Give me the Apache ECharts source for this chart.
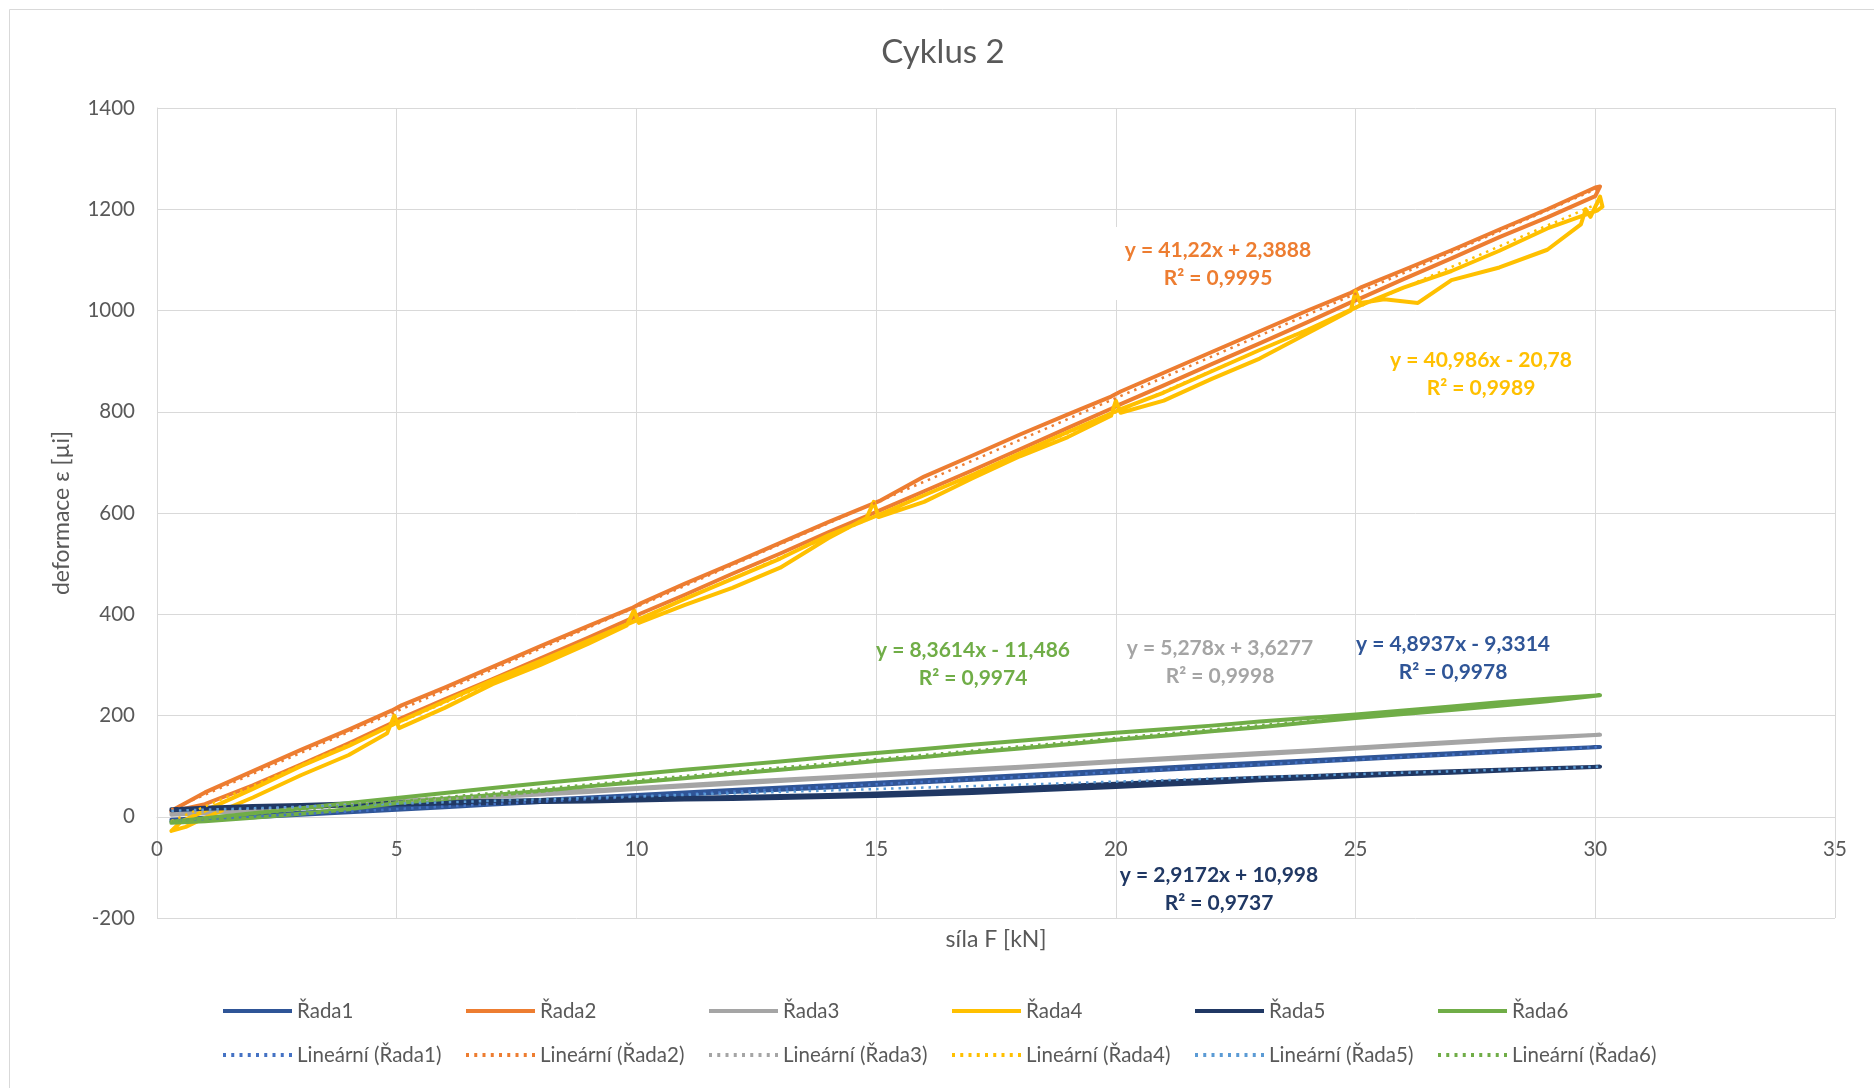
<!DOCTYPE html>
<html><head><meta charset="utf-8">
<script src="https://cdn.jsdelivr.net/npm/echarts@6/dist/echarts.min.js"></script>
<style>html,body{margin:0;padding:0;background:#fff}#c{width:1874px;height:1088px}</style>
</head><body><div id="c"></div><script>
// ---- data (x = síla F [kN], y = deformace) ----
const seriesNames = ['Řada1','Řada2','Řada3','Řada4','Řada5','Řada6'];
const xTicks = [0,5,10,15,20,25,30,35];
const yTicks = [-200,0,200,400,600,800,1000,1200,1400];

const rada1 = [[0.3,-9],[1,-6],[2,-1],[3,4],[4,9],[5,14],[6,19],[7,24],[8,29],[9,34],[10,39],[12,49],[14,58],[16,68],[18,78],[20,88],[22,98],[24,108],[26,118],[28,128],[30.1,138],
  [28,130],[26,121],[24,111],[22,102],[20,92],[18,82],[16,72],[14,62],[12,53],[10,43],[9,38],[8,33],[7,28],[6,23],[5,18],[4,13],[3,8],[2,3],[1,-2],[0.3,-6]];
const rada2 = [[0.3,10],[1,25],[2,62],[3,103],[4,145],[4.9,185],[5.1,195],[6,232],[7,272],[8,313],[9,354],[9.9,392],[10.1,402],[11,438],[12,480],[13,520],[14,562],[14.9,598],[15.1,606],[16,643],[17,684],[18,726],[19,768],[19.9,806],[20.1,815],[21,852],[22,894],[23,935],[24,977],[24.9,1016],[25.1,1024],[26,1062],[27,1103],[28,1145],[29,1184],[30,1226],[30.1,1245],
  [30,1243],[29,1200],[28,1160],[27,1119],[26,1080],[25.1,1045],[24.9,1035],[24,1000],[23,959],[22,918],[21,877],[20.1,840],[19.9,830],[19,795],[18,755],[17,713],[16,672],[15.1,625],[14.9,617],[14,582],[13,541],[12,500],[11,460],[10.1,422],[9.9,412],[9,377],[8,337],[7,296],[6,255],[5.1,220],[4.9,210],[4,172],[3,132],[2,90],[1,48],[0.3,12]];
const rada3 = [[0.3,4],[1,7],[2,12],[3,17],[4,23],[5,28],[6,34],[7,39],[8,44],[9,49],[10,55],[12,65],[14,76],[16,86],[18,97],[20,108],[22,118],[24,129],[26,140],[28,151],[30.1,162],
  [28,153],[26,142],[24,131],[22,121],[20,110],[18,99],[16,89],[14,78],[12,68],[10,57],[9,52],[8,47],[7,41],[6,36],[5,31],[4,25],[3,20],[2,14],[1,9],[0.3,6]];
const rada4 = [[0.3,-28],[0.6,-20],[1,-2],[2,38],[3,82],[4,122],[4.8,165],[4.95,200],[5.05,175],[6,215],[7,262],[8,300],[9,342],[9.8,378],[9.95,408],[10.05,383],[11,418],[12,452],[13,492],[14,550],[14.8,590],[14.95,622],[15.05,592],[16,622],[17,668],[18,712],[19,750],[19.9,792],[20,822],[20.1,798],[21,822],[22,865],[23,905],[24,955],[24.9,1000],[25,1038],[25.1,1015],[25.6,1022],[26.3,1015],[27,1060],[28,1085],[29,1120],[29.7,1170],[29.8,1200],[29.9,1185],[30.1,1225],
  [30.15,1205],[30.05,1198],[29,1162],[28,1118],[27,1078],[26,1045],[25.1,1010],[24,962],[23,922],[22,880],[21,838],[20.1,805],[19,760],[18,718],[17,675],[16,635],[15.1,598],[14,556],[13,510],[12,470],[11,430],[10.1,392],[9,348],[8,308],[7,270],[6,228],[5.1,190],[4,140],[3,100],[2,55],[1,12],[0.5,-10],[0.3,-28]];
const rada5 = [[0.3,13],[1,16],[2,18],[3,20],[4,22],[5,24],[6,26],[7,27],[8,29],[9,30],[10,32],[11,34],[12,35],[13,37],[14,39],[15,41],[16,44],[17,47],[18,51],[19,55],[20,59],[21,63],[22,67],[23,72],[24,76],[25,80],[26,84],[27,87],[28,91],[29,95],[30.1,99],
  [29,96],[28,93],[27,90],[26,87],[25,84],[24,80],[23,77],[22,73],[21,69],[20,65],[19,61],[18,57],[17,53],[16,49],[15,46],[14,43],[13,41],[12,39],[11,37],[10,36],[9,34],[8,33],[7,31],[6,30],[5,28],[4,26],[3,23],[2,21],[1,18],[0.3,15]];
const rada6 = [[0.3,-12],[1,-9],[2,-2],[3,6],[4,15],[5,27],[6,35],[7,43],[8,51],[9,60],[10,68],[11,76],[12,85],[13,93],[14,101],[15,110],[16,118],[17,127],[18,135],[19,143],[20,152],[21,160],[22,169],[23,177],[24,186],[25,195],[26,203],[27,211],[28,219],[29,228],[30.1,240],
  [29,233],[28,226],[27,218],[26,210],[25,202],[24,195],[23,188],[22,180],[21,173],[20,166],[19,158],[18,150],[17,142],[16,134],[15,126],[14,118],[13,109],[12,101],[11,93],[10,84],[9,75],[8,66],[7,57],[6,47],[5,37],[4,27],[3,17],[2,7],[1,-3],[0.3,-10]];

// trendline end points (read from the trendline equations shown)
const trend1 = [[0.3,-7.86],[30.1,137.97]];
const trend2 = [[0.3,14.76],[30.1,1243.11]];
const trend3 = [[0.3,5.21],[30.1,162.50]];
const trend4 = [[0.3,-8.48],[30.1,1212.90]];
const trend5 = [[0.3,11.87],[30.1,98.81]];
const trend6 = [[0.3,-8.98],[30.1,240.19]];

const trendLabels = [
  'y = 4,8937x - 9,3314\nR² = 0,9978',
  'y = 41,22x + 2,3888\nR² = 0,9995',
  'y = 5,278x + 3,6277\nR² = 0,9998',
  'y = 40,986x - 20,78\nR² = 0,9989',
  'y = 2,9172x + 10,998\nR² = 0,9737',
  'y = 8,3614x - 11,486\nR² = 0,9974'
];

// ---- styling ----
const seriesColors = ['#2F5597','#ED7D31','#A5A5A5','#FFC000','#203864','#70AD47'];
const trendColors  = ['#4472C4','#ED7D31','#A5A5A5','#FFC000','#5B9BD5','#70AD47'];
const labelColors  = ['#2F5597','#ED7D31','#A5A5A5','#FFC000','#203864','#70AD47'];
const labelPos = [[1453,658],[1218,264],[1220,662],[1481,374],[1219,889],[973,664]];
const legendCols = [223,466,709,952,1195,1438];
const FONT = 'Lato';
const TXT = '#595959';
const GRID = {left:157, right:39, top:108, bottom:170};
const PLOT_H = 1088 - GRID.top - GRID.bottom;
// x axis crosses the value axis at y = 0
const xAxisOffset = -PLOT_H * (0 - yTicks[0]) / (yTicks[yTicks.length-1] - yTicks[0]);

// legend icons: solid bar and round-dot row (69 x 4 px)
const solidIcon = 'path://M0,0H69V4H0Z';
let dotPath = 'path://';
for (let k = 0; k < 9; k++) { const x0 = k * 8.25; dotPath += 'M' + x0 + ',0H' + (x0 + 3) + 'V4H' + x0 + 'Z'; }

const dataArr = [rada1,rada2,rada3,rada4,rada5,rada6];
const trendArr = [trend1,trend2,trend3,trend4,trend5,trend6];

const series = [];
dataArr.forEach((d,i)=>series.push({
  name: seriesNames[i], type:'line', data:d, symbol:'none', showSymbol:false,
  lineStyle:{color:seriesColors[i], width:4, cap:'round', join:'round'}, itemStyle:{color:seriesColors[i]}, z:2
}));
trendArr.forEach((d,i)=>series.push({
  name: 'Lineární ('+seriesNames[i]+')', type:'line', data:d, symbol:'none', showSymbol:false,
  lineStyle:{color:trendColors[i], width:2.5, type:[2.5,5]}, itemStyle:{color:trendColors[i]}, z:3
}));

const graphics = [
  {type:'rect', shape:{x:9.5,y:9.5,width:1900,height:1100}, style:{fill:'none', stroke:'#D9D9D9', lineWidth:1}, z:0, silent:true},
  {type:'rect', shape:{x:1112,y:227,width:210,height:73}, style:{fill:'#ffffff'}, z:1, silent:true}
];
trendLabels.forEach((t,i)=>graphics.push({
  type:'text', x:labelPos[i][0], y:labelPos[i][1], z:10, silent:true,
  style:{text:t, align:'center', verticalAlign:'middle', fill:labelColors[i], font:'bold 21px '+FONT, lineHeight:28}
}));

const chart = echarts.init(document.getElementById('c'), null, {renderer:'canvas'});
chart.setOption({
  animation:false,
  backgroundColor:'#ffffff',
  title:{text:'Cyklus 2', left:943, top:36, textAlign:'center', padding:0,
    textStyle:{fontFamily:FONT, fontSize:33, fontWeight:'normal', color:TXT}},
  grid:{left:GRID.left, right:GRID.right, top:GRID.top, bottom:GRID.bottom, containLabel:false},
  xAxis:{type:'value', min:xTicks[0], max:xTicks[xTicks.length-1], interval:5,
    offset:xAxisOffset,
    axisLine:{show:true, onZero:false, lineStyle:{color:'#D9D9D9', width:1}},
    axisTick:{show:false},
    splitLine:{show:true, lineStyle:{color:'#D9D9D9', width:1}},
    axisLabel:{fontFamily:FONT, fontSize:20.5, color:TXT, margin:22, formatter:v=>String(v)},
    name:'síla F [kN]', nameLocation:'middle', nameGap:111,
    nameTextStyle:{fontFamily:FONT, fontSize:23, color:TXT}},
  yAxis:{type:'value', min:yTicks[0], max:yTicks[yTicks.length-1], interval:200,
    axisLine:{show:true, onZero:false, lineStyle:{color:'#D9D9D9', width:1}},
    axisTick:{show:false},
    splitLine:{show:true, lineStyle:{color:'#D9D9D9', width:1}},
    axisLabel:{fontFamily:FONT, fontSize:20.5, color:TXT, margin:22, formatter:v=>String(v)},
    name:'deformace ε [µi]', nameLocation:'middle', nameRotate:90, nameGap:84,
    nameTextStyle:{fontFamily:FONT, fontSize:23, color:TXT}},
  legend: seriesNames.map((n,i)=>({
    left:legendCols[i], top:1000, orient:'vertical', itemGap:22, itemWidth:69, itemHeight:4,
    padding:0, selectedMode:false, symbolKeepAspect:false,
    data:[{name:n, icon:solidIcon}, {name:'Lineární ('+n+')', icon:dotPath}],
    textStyle:{fontFamily:FONT, fontSize:20.5, color:TXT, lineHeight:22}
  })),
  graphic: graphics,
  series: series
});
</script></body></html>
